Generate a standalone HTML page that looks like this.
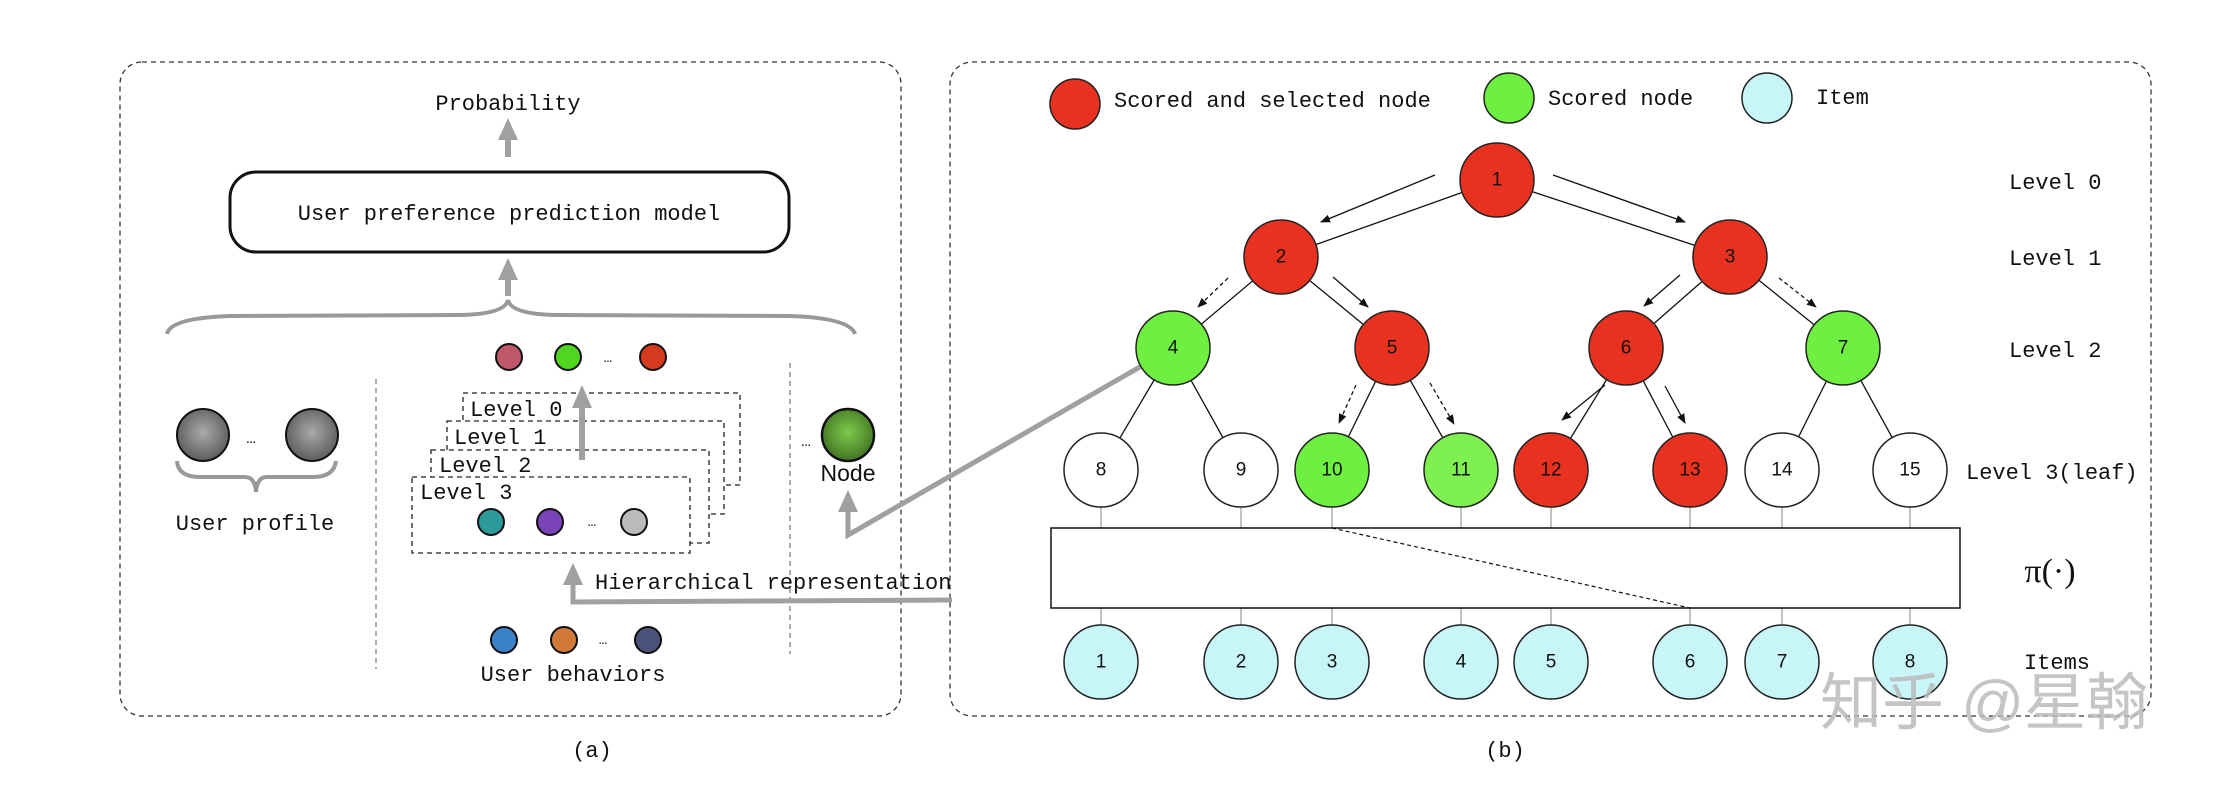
<!DOCTYPE html>
<html><head><meta charset="utf-8"><style>
html,body{margin:0;padding:0;background:#fff;}
svg{display:block;}
.m{font-family:"Liberation Mono",monospace;font-size:22px;fill:#111;}
.n{font-family:"Liberation Sans",sans-serif;font-size:19px;fill:#111;text-anchor:middle;dominant-baseline:central;}
</style></head><body>
<svg width="2224" height="792" viewBox="0 0 2224 792" xmlns="http://www.w3.org/2000/svg">
<defs>
<radialGradient id="gg" cx="0.5" cy="0.45" r="0.6"><stop offset="0" stop-color="#aaa"/><stop offset="1" stop-color="#555"/></radialGradient>
<radialGradient id="gn" cx="0.5" cy="0.45" r="0.6"><stop offset="0" stop-color="#7fc94a"/><stop offset="1" stop-color="#3d6e20"/></radialGradient>
<marker id="ah" markerWidth="10" markerHeight="8" refX="9" refY="4" orient="auto" markerUnits="userSpaceOnUse"><path d="M0,0 L10,4 L0,8 z" fill="#111"/></marker>
<marker id="ga" markerWidth="18" markerHeight="18" refX="9" refY="14" orient="auto" markerUnits="userSpaceOnUse"></marker>
</defs>
<!-- panels -->
<rect x="120" y="62" width="781" height="654" rx="22" fill="none" stroke="#333" stroke-width="1.3" stroke-dasharray="5,4"/>
<rect x="950" y="62" width="1201" height="654" rx="22" fill="none" stroke="#333" stroke-width="1.3" stroke-dasharray="5,4"/>

<!-- left panel -->
<text class="m" x="508" y="110" text-anchor="middle">Probability</text>
<g fill="#a0a0a0"><rect x="505" y="135" width="6" height="22"/><polygon points="508,118 498,140 518,140"/></g>
<rect x="230" y="172" width="559" height="80" rx="26" fill="#fff" stroke="#111" stroke-width="3"/>
<text class="m" x="509" y="220" text-anchor="middle">User preference prediction model</text>
<g fill="#a0a0a0"><rect x="505" y="274" width="6" height="22"/><polygon points="508,258 498,280 518,280"/></g>
<path d="M167,334 Q170,318 230,316 L460,315 Q505,314 508,300 Q511,314 556,315 L790,316 Q850,318 855,334" fill="none" stroke="#999" stroke-width="4"/>
<circle cx="203" cy="435" r="26" fill="url(#gg)" stroke="#111" stroke-width="2"/>
<circle cx="312" cy="435" r="26" fill="url(#gg)" stroke="#111" stroke-width="2"/>
<text class="m" x="251" y="443" text-anchor="middle" style="font-size:16px">…</text>
<path d="M177,461 Q178,477 200,477 L245,477 Q255,477 256,492 Q257,477 267,477 L313,477 Q334,477 336,461" fill="none" stroke="#999" stroke-width="4"/>
<text class="m" x="255" y="530" text-anchor="middle">User profile</text>
<line x1="376" y1="379" x2="376" y2="669" stroke="#777" stroke-width="1.2" stroke-dasharray="5,4"/>
<line x1="790" y1="363" x2="790" y2="654" stroke="#777" stroke-width="1.2" stroke-dasharray="5,4"/>
<!-- top balls -->
<circle cx="509" cy="357" r="13" fill="#c0566a" stroke="#111" stroke-width="2"/>
<circle cx="568" cy="357" r="13" fill="#4ed620" stroke="#111" stroke-width="2"/>
<circle cx="653" cy="357" r="13" fill="#d63a1e" stroke="#111" stroke-width="2"/>
<text class="m" x="608" y="362" text-anchor="middle" style="font-size:14px">…</text>
<!-- level boxes -->
<g fill="#fff" stroke="#222" stroke-width="1.3" stroke-dasharray="5,4">
<rect x="463" y="393" width="277" height="92"/>
<rect x="447" y="421" width="277" height="93"/>
<rect x="431" y="450" width="278" height="93"/>
<rect x="412" y="477" width="278" height="76"/>
</g>
<text class="m" x="470" y="416">Level 0</text>
<text class="m" x="454" y="444">Level 1</text>
<text class="m" x="439" y="472">Level 2</text>
<text class="m" x="420" y="499">Level 3</text>
<g fill="#a0a0a0"><rect x="579" y="405" width="6" height="55"/><polygon points="582,385 572,408 592,408"/></g>
<circle cx="491" cy="522" r="13" fill="#2a9a9a" stroke="#111" stroke-width="2"/>
<circle cx="550" cy="522" r="13" fill="#7a44b8" stroke="#111" stroke-width="2"/>
<circle cx="634" cy="522" r="13" fill="#bbb" stroke="#111" stroke-width="2"/>
<text class="m" x="592" y="526" text-anchor="middle" style="font-size:14px">…</text>
<!-- Node -->
<circle cx="848" cy="435" r="26" fill="url(#gn)" stroke="#111" stroke-width="2.5"/>
<text class="m" x="806" y="446" text-anchor="middle" style="font-size:16px">…</text>
<text x="848" y="481" text-anchor="middle" style="font-family:'Liberation Sans',sans-serif;font-size:23px;fill:#111">Node</text>
<g fill="#a0a0a0"><polygon points="848,490 838,512 858,512"/></g>
<polyline points="848,510 848,535 1145,364" fill="none" stroke="#a0a0a0" stroke-width="5"/>
<!-- hierarchical -->
<g fill="#a0a0a0"><polygon points="573,563 563,585 583,585"/></g>
<polyline points="573,582 573,602 952,600" fill="none" stroke="#a0a0a0" stroke-width="5"/>
<text class="m" x="595" y="589">Hierarchical representation</text>
<circle cx="504" cy="640" r="13" fill="#3a82c8" stroke="#111" stroke-width="2"/>
<circle cx="564" cy="640" r="13" fill="#d27a3a" stroke="#111" stroke-width="2"/>
<circle cx="648" cy="640" r="13" fill="#4a5478" stroke="#111" stroke-width="2"/>
<text class="m" x="603" y="644" text-anchor="middle" style="font-size:14px">…</text>
<text class="m" x="573" y="681" text-anchor="middle">User behaviors</text>
<text class="m" x="592" y="757" text-anchor="middle">(a)</text>

<!-- right panel legend -->
<circle cx="1075" cy="104" r="25" fill="#e8321f" stroke="#222" stroke-width="1.5"/>
<text class="m" x="1114" y="107">Scored and selected node</text>
<circle cx="1509" cy="98" r="25" fill="#6ef040" stroke="#222" stroke-width="1.5"/>
<text class="m" x="1548" y="105">Scored node</text>
<circle cx="1767" cy="98" r="25" fill="#c8f6f8" stroke="#222" stroke-width="1.5"/>
<text class="m" x="1816" y="104">Item</text>

<!-- tree edges -->
<g stroke="#111" stroke-width="1.3">
<line x1="1497" y1="180" x2="1281" y2="257"/><line x1="1497" y1="180" x2="1730" y2="257"/>
<line x1="1281" y1="257" x2="1173" y2="348"/><line x1="1281" y1="257" x2="1392" y2="348"/>
<line x1="1730" y1="257" x2="1626" y2="348"/><line x1="1730" y1="257" x2="1843" y2="348"/>
<line x1="1173" y1="348" x2="1101" y2="470"/><line x1="1173" y1="348" x2="1241" y2="470"/>
<line x1="1392" y1="348" x2="1332" y2="470"/><line x1="1392" y1="348" x2="1461" y2="470"/>
<line x1="1626" y1="348" x2="1551" y2="470"/><line x1="1626" y1="348" x2="1690" y2="470"/>
<line x1="1843" y1="348" x2="1782" y2="470"/><line x1="1843" y1="348" x2="1910" y2="470"/>
</g>
<!-- arrows -->
<g stroke="#111" stroke-width="1.3" marker-end="url(#ah)">
<line x1="1435" y1="175" x2="1321" y2="222"/>
<line x1="1553" y1="175" x2="1685" y2="222"/>
<line x1="1228" y1="278" x2="1198" y2="307" stroke-dasharray="4,3"/>
<line x1="1333" y1="277" x2="1368" y2="307"/>
<line x1="1680" y1="275" x2="1644" y2="306"/>
<line x1="1779" y1="278" x2="1816" y2="307" stroke-dasharray="4,3"/>
<line x1="1356" y1="385" x2="1339" y2="423" stroke-dasharray="4,3"/>
<line x1="1430" y1="383" x2="1454" y2="424" stroke-dasharray="4,3"/>
<line x1="1605" y1="385" x2="1562" y2="420"/>
<line x1="1665" y1="386" x2="1685" y2="423"/>
</g>
<!-- leaf-box-item lines -->
<g stroke="#888" stroke-width="1">
<line x1="1101" y1="500" x2="1101" y2="640"/><line x1="1241" y1="500" x2="1241" y2="640"/>
<line x1="1332" y1="500" x2="1332" y2="640"/><line x1="1461" y1="500" x2="1461" y2="640"/>
<line x1="1551" y1="500" x2="1551" y2="640"/><line x1="1690" y1="500" x2="1690" y2="640"/>
<line x1="1782" y1="500" x2="1782" y2="640"/><line x1="1910" y1="500" x2="1910" y2="640"/>
</g>
<rect x="1051" y="528" width="909" height="80" fill="#fff" stroke="#111" stroke-width="1.5"/>
<line x1="1332" y1="528" x2="1690" y2="608" stroke="#111" stroke-width="1.2" stroke-dasharray="4,3"/>
<!-- nodes -->
<g stroke="#222" stroke-width="1.5">
<circle cx="1497" cy="180" r="37" fill="#e8321f"/>
<circle cx="1281" cy="257" r="37" fill="#e8321f"/>
<circle cx="1730" cy="257" r="37" fill="#e8321f"/>
<circle cx="1173" cy="348" r="37" fill="#6ef040"/>
<circle cx="1392" cy="348" r="37" fill="#e8321f"/>
<circle cx="1626" cy="348" r="37" fill="#e8321f"/>
<circle cx="1843" cy="348" r="37" fill="#6ef040"/>
<circle cx="1101" cy="470" r="37" fill="#fff"/>
<circle cx="1241" cy="470" r="37" fill="#fff"/>
<circle cx="1332" cy="470" r="37" fill="#6ef040"/>
<circle cx="1461" cy="470" r="37" fill="#7ef050"/>
<circle cx="1551" cy="470" r="37" fill="#e8321f"/>
<circle cx="1690" cy="470" r="37" fill="#e8321f"/>
<circle cx="1782" cy="470" r="37" fill="#fff"/>
<circle cx="1910" cy="470" r="37" fill="#fff"/>
<g fill="#c8f6f8">
<circle cx="1101" cy="662" r="37"/><circle cx="1241" cy="662" r="37"/><circle cx="1332" cy="662" r="37"/><circle cx="1461" cy="662" r="37"/>
<circle cx="1551" cy="662" r="37"/><circle cx="1690" cy="662" r="37"/><circle cx="1782" cy="662" r="37"/><circle cx="1910" cy="662" r="37"/>
</g>
</g>
<g class="n">
<text class="n" x="1497" y="180">1</text><text class="n" x="1281" y="257">2</text><text class="n" x="1730" y="257">3</text>
<text class="n" x="1173" y="348">4</text><text class="n" x="1392" y="348">5</text><text class="n" x="1626" y="348">6</text><text class="n" x="1843" y="348">7</text>
<text class="n" x="1101" y="470">8</text><text class="n" x="1241" y="470">9</text><text class="n" x="1332" y="470">10</text><text class="n" x="1461" y="470">11</text>
<text class="n" x="1551" y="470">12</text><text class="n" x="1690" y="470">13</text><text class="n" x="1782" y="470">14</text><text class="n" x="1910" y="470">15</text>
<text class="n" x="1101" y="662">1</text><text class="n" x="1241" y="662">2</text><text class="n" x="1332" y="662">3</text><text class="n" x="1461" y="662">4</text>
<text class="n" x="1551" y="662">5</text><text class="n" x="1690" y="662">6</text><text class="n" x="1782" y="662">7</text><text class="n" x="1910" y="662">8</text>
</g>
<text class="m" x="2009" y="189">Level 0</text>
<text class="m" x="2009" y="265">Level 1</text>
<text class="m" x="2009" y="357">Level 2</text>
<text class="m" x="1966" y="479">Level 3(leaf)</text>
<text x="2050" y="582" text-anchor="middle" style="font-family:'Liberation Serif',serif;font-size:34px;fill:#111">π(·)</text>
<text class="m" x="2057" y="669" text-anchor="middle">Items</text>
<text class="m" x="1505" y="757" text-anchor="middle">(b)</text>
<text x="1820" y="724" style="font-family:'Liberation Sans','Noto Sans CJK SC',sans-serif;font-size:62px;fill:#bbb;opacity:0.85">知乎 @星翰</text>
</svg>
</body></html>
